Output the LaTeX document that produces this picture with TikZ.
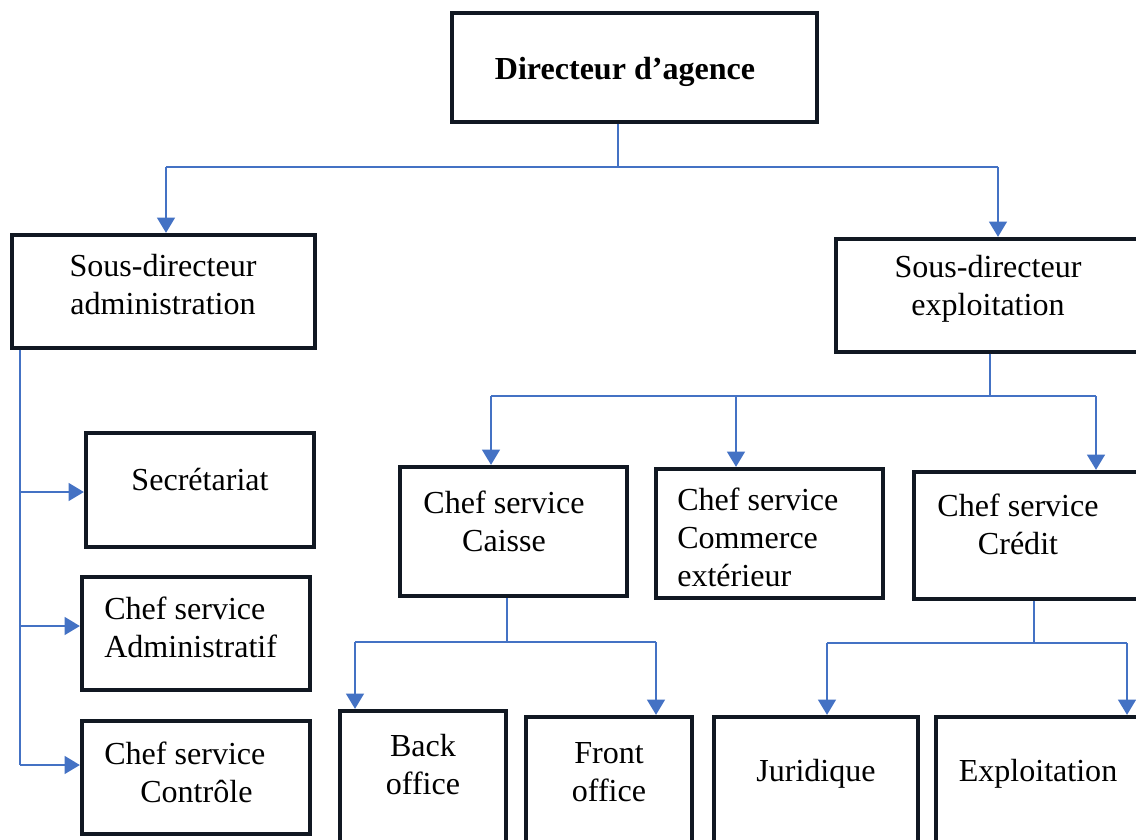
\documentclass[tikz,border=0pt]{standalone}
\usepackage{fontspec}
\setmainfont{Liberation Serif}
\usetikzlibrary{arrows.meta,fit}

\definecolor{bleulien}{HTML}{4472C4}
\definecolor{traitcadre}{HTML}{111822}

\tikzset{
	boite/.style={draw=traitcadre, line width=2.2pt, inner sep=0pt},
	texte/.style={inner sep=0pt, align=center, font=\fontsize{22.8}{27}\selectfont},
	lien/.style={draw=bleulien, line width=0.9pt},
	fleche/.style={draw=bleulien, line width=1.7pt, -{Triangle[width=0.44cm,length=0.38cm]}, shorten >=0.4pt}
}

\begin{document}
\begin{tikzpicture}[x=0.025cm, y=-0.025cm]

	\useasboundingbox (0,0) rectangle (1136,840);
	\clip (0,0) rectangle (1136,840);

	% cadres
	\node[boite, fit={(452,13) (817,122)}] (dir) {};
	\node[boite, fit={(12,235) (315,348)}] (sa) {};
	\node[boite, fit={(836,239) (1160,352)}] (se) {};
	\node[boite, fit={(86,433) (314,547)}] (sec) {};
	\node[boite, fit={(82,577) (310,690)}] (adm) {};
	\node[boite, fit={(82,721) (310,834)}] (ctl) {};
	\node[boite, fit={(400,467) (627,596)}] (cai) {};
	\node[boite, fit={(656,469) (883,598)}] (com) {};
	\node[boite, fit={(914,472) (1160,599)}] (cre) {};
	\node[boite, fit={(340,711) (506,870)}] (back) {};
	\node[boite, fit={(526,717) (692,870)}] (front) {};
	\node[boite, fit={(714,717) (918,870)}] (jur) {};
	\node[boite, fit={(936,717) (1160,870)}] (exp) {};

	% textes
	\node[texte] (tdir) at (625,72) {\bfseries Directeur d’agence};
	\node[texte] (tsa) at (163,285) {Sous-directeur\\administration};
	\node[texte] (tse) at (988,289) {Sous-directeur\\exploitation};
	\node[texte] (tsec) at (200,480) {Secrétariat};
	\node[texte, align=left, anchor=west] (tadm) at (104,627) {Chef service\\Administratif};
	\node[texte, align=left, anchor=west] (tctl) at (104,772) {Chef service\\\hspace*{0.9cm}Contrôle};
	\node[texte] (tcai) at (504,521) {Chef service\\Caisse};
	\node[texte, align=left, anchor=west] (tcom) at (677,537) {Chef service\\Commerce\\extérieur};
	\node[texte] (tcre) at (1018,524) {Chef service\\Crédit};
	\node[texte] (tback) at (423,765) {Back\\office};
	\node[texte] (tfront) at (609,772) {Front\\office};
	\node[texte] (tjur) at (816,774) {Juridique};
	\node[texte] (texp) at (1038,774) {Exploitation};

	% liaisons
	\coordinate (j1) at (618,167);
	\path[lien] (dir.south -| j1) -- (j1);
	\path[lien] (166,167) -- (998,167);
	\foreach \b / \x in {sa/166, se/998}
	{
		\path[fleche] (\x,167) -- (\b.north -| \x,0);
	};

	\path[lien] (sa.south -| 20,0) -- (20,765);
	\foreach \b / \y in {sec/492, adm/626, ctl/765}
	{
		\path[fleche] (20,\y) -- (\b.west |- 0,\y);
	};

	\coordinate (j2) at (990,396);
	\path[lien] (se.south -| j2) -- (j2);
	\path[lien] (491,396) -- (1096,396);
	\foreach \b / \x in {cai/491, com/736, cre/1096}
	{
		\path[fleche] (\x,396) -- (\b.north -| \x,0);
	};

	\coordinate (j3) at (507,642);
	\path[lien] (cai.south -| j3) -- (j3);
	\path[lien] (355,642) -- (656,642);
	\foreach \b / \x in {back/355, front/656}
	{
		\path[fleche] (\x,642) -- (\b.north -| \x,0);
	};

	\coordinate (j4) at (1034,643);
	\path[lien] (cre.south -| j4) -- (j4);
	\path[lien] (827,643) -- (1127,643);
	\foreach \b / \x in {jur/827, exp/1127}
	{
		\path[fleche] (\x,643) -- (\b.north -| \x,0);
	};

\end{tikzpicture}
\end{document}
